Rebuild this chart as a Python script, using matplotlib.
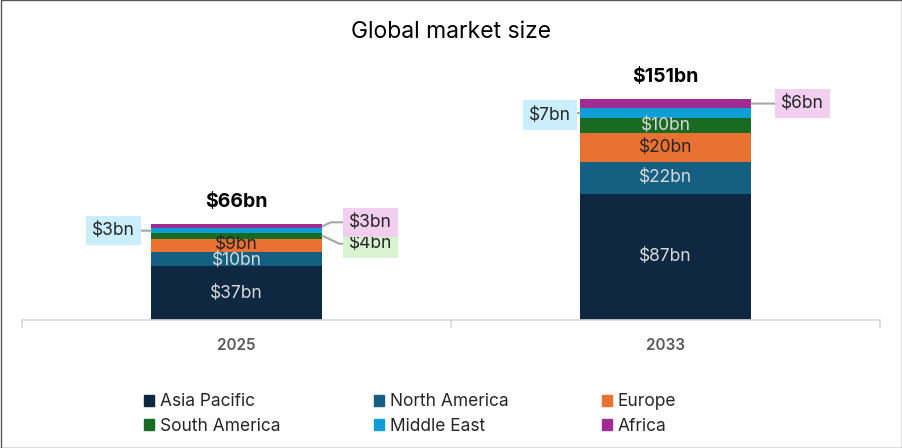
import numpy as np
import matplotlib
matplotlib.use("Agg")
import matplotlib.pyplot as plt
from matplotlib.patches import Patch, Rectangle

plt.rcParams['font.family'] = ['Inter', 'DejaVu Sans']

years = ["2025", "2033"]
regions = ["Asia Pacific", "North America", "Europe", "South America", "Middle East", "Africa"]
values = {
    "Asia Pacific": [37, 87],
    "North America": [10, 22],
    "Europe": [9, 20],
    "South America": [4, 10],
    "Middle East": [3, 7],
    "Africa": [3, 6],
}
totals = [66, 151]

colors = {
    "Asia Pacific": "#0e2841",
    "North America": "#156082",
    "Europe": "#e97132",
    "South America": "#196b24",
    "Middle East": "#0f9ed5",
    "Africa": "#a02b93",
}
label_color = {
    "Asia Pacific": "#d9d9d9",
    "North America": "#d9d9d9",
    "Europe": "#262626",
    "South America": "#d9d9d9",
    "Middle East": "#262626",
    "Africa": "#262626",
}
box_color = {
    "South America": "#d9f2d0",
    "Middle East": "#caeefb",
    "Africa": "#f2ceef",
}
# (year index, region) -> side, dx, dy in pixels, connection angle
callouts = {
    (0, "Middle East"): ("left", -37, 0, 0),
    (0, "Africa"): ("right", 48, 4, 25),
    (0, "South America"): ("right", 48, -8, -25),
    (1, "Middle East"): ("left", -30, -2, 0),
    (1, "Africa"): ("right", 51, 0, 0),
}
# small vertical nudges (pixels) for the crowded inside labels
nudge = {(0, "North America"): -2, (0, "Europe"): 1}

W, H = 902, 448
fig = plt.figure(figsize=(W / 100, H / 100), dpi=100)
ax = fig.add_axes([22 / W, 1 - 320 / H, (880 - 22) / W, 260 / H])

x = np.arange(len(years))
width = 0.4
bottom = np.zeros(len(years))
for r in regions:
    vals = np.array(values[r], dtype=float)
    ax.bar(x, vals, width, bottom=bottom, color=colors[r], label=r, zorder=2)
    for i in range(len(years)):
        mid = bottom[i] + vals[i] / 2
        txt = "$%dbn" % vals[i]
        if (i, r) in callouts:
            side, dx, dy, ang = callouts[(i, r)]
            edge = x[i] - width / 2 if side == "left" else x[i] + width / 2
            if ang == 0:
                cs = "arc3,rad=0"
            else:
                cs = "angle,angleA=0,angleB=%d,rad=0" % ang
            ax.annotate(txt, (edge, mid), xytext=(dx, dy), textcoords="offset pixels",
                        ha="center", va="center", fontsize=12.5, color="#262626",
                        bbox=dict(boxstyle="square,pad=0.35", fc=box_color[r], ec="none"),
                        arrowprops=dict(arrowstyle="-", color="#a6a6a6", lw=1.5,
                                        shrinkA=0, shrinkB=0, connectionstyle=cs))
        else:
            ax.annotate(txt, (x[i], mid), xytext=(0, nudge.get((i, r), 0)),
                        textcoords="offset pixels", ha="center", va="center",
                        fontsize=12.5, color=label_color[r], zorder=3)
    bottom += vals

for i in range(len(years)):
    ax.annotate("$%dbn" % totals[i], (x[i], bottom[i]), xytext=(0, 22),
                textcoords="offset pixels", ha="center", va="center",
                fontsize=14, fontweight="bold", color="#000000")

ax.set_xlim(-0.5, 1.5)
ax.set_ylim(0, 179)
ax.set_yticks([])
for s in ["top", "right", "left"]:
    ax.spines[s].set_visible(False)
ax.spines["bottom"].set_color("#d9d9d9")
ax.spines["bottom"].set_linewidth(1.2)
ax.set_xticks([-0.5, 0.5, 1.5])
ax.set_xticklabels([])
ax.tick_params(axis="x", which="major", length=6, color="#d9d9d9", width=1.2)
ax.set_xticks(x, minor=True)
ax.set_xticklabels(years, minor=True)
ax.tick_params(axis="x", which="minor", length=0, pad=13, labelsize=11,
               labelcolor="#595959")
for t in ax.get_xticklabels(minor=True):
    t.set_fontweight("semibold")

fig.text(451 / W, 1 - 32 / H, "Global market size", ha="center", va="center",
         fontsize=16.5, color="#000000")

order = ["Asia Pacific", "South America", "North America", "Middle East", "Europe", "Africa"]
handles = [Patch(color=colors[r], label=r) for r in order]
fig.legend(handles=handles, ncol=3, loc="center left",
           bbox_to_anchor=(144 / W, 1 - 414 / H), frameon=False, fontsize=12.5,
           handlelength=0.6, handleheight=0.6, handletextpad=0.3,
           columnspacing=5.4, labelspacing=0.42, labelcolor="#262626",
           borderaxespad=0, borderpad=0)

fig.patches.append(Rectangle((0.5 / W, 0.5 / H), 1 - 1 / W, 1 - 1 / H,
                             transform=fig.transFigure, fill=False,
                             ec="#595959", lw=1))

fig.savefig("out.png", dpi=100)
